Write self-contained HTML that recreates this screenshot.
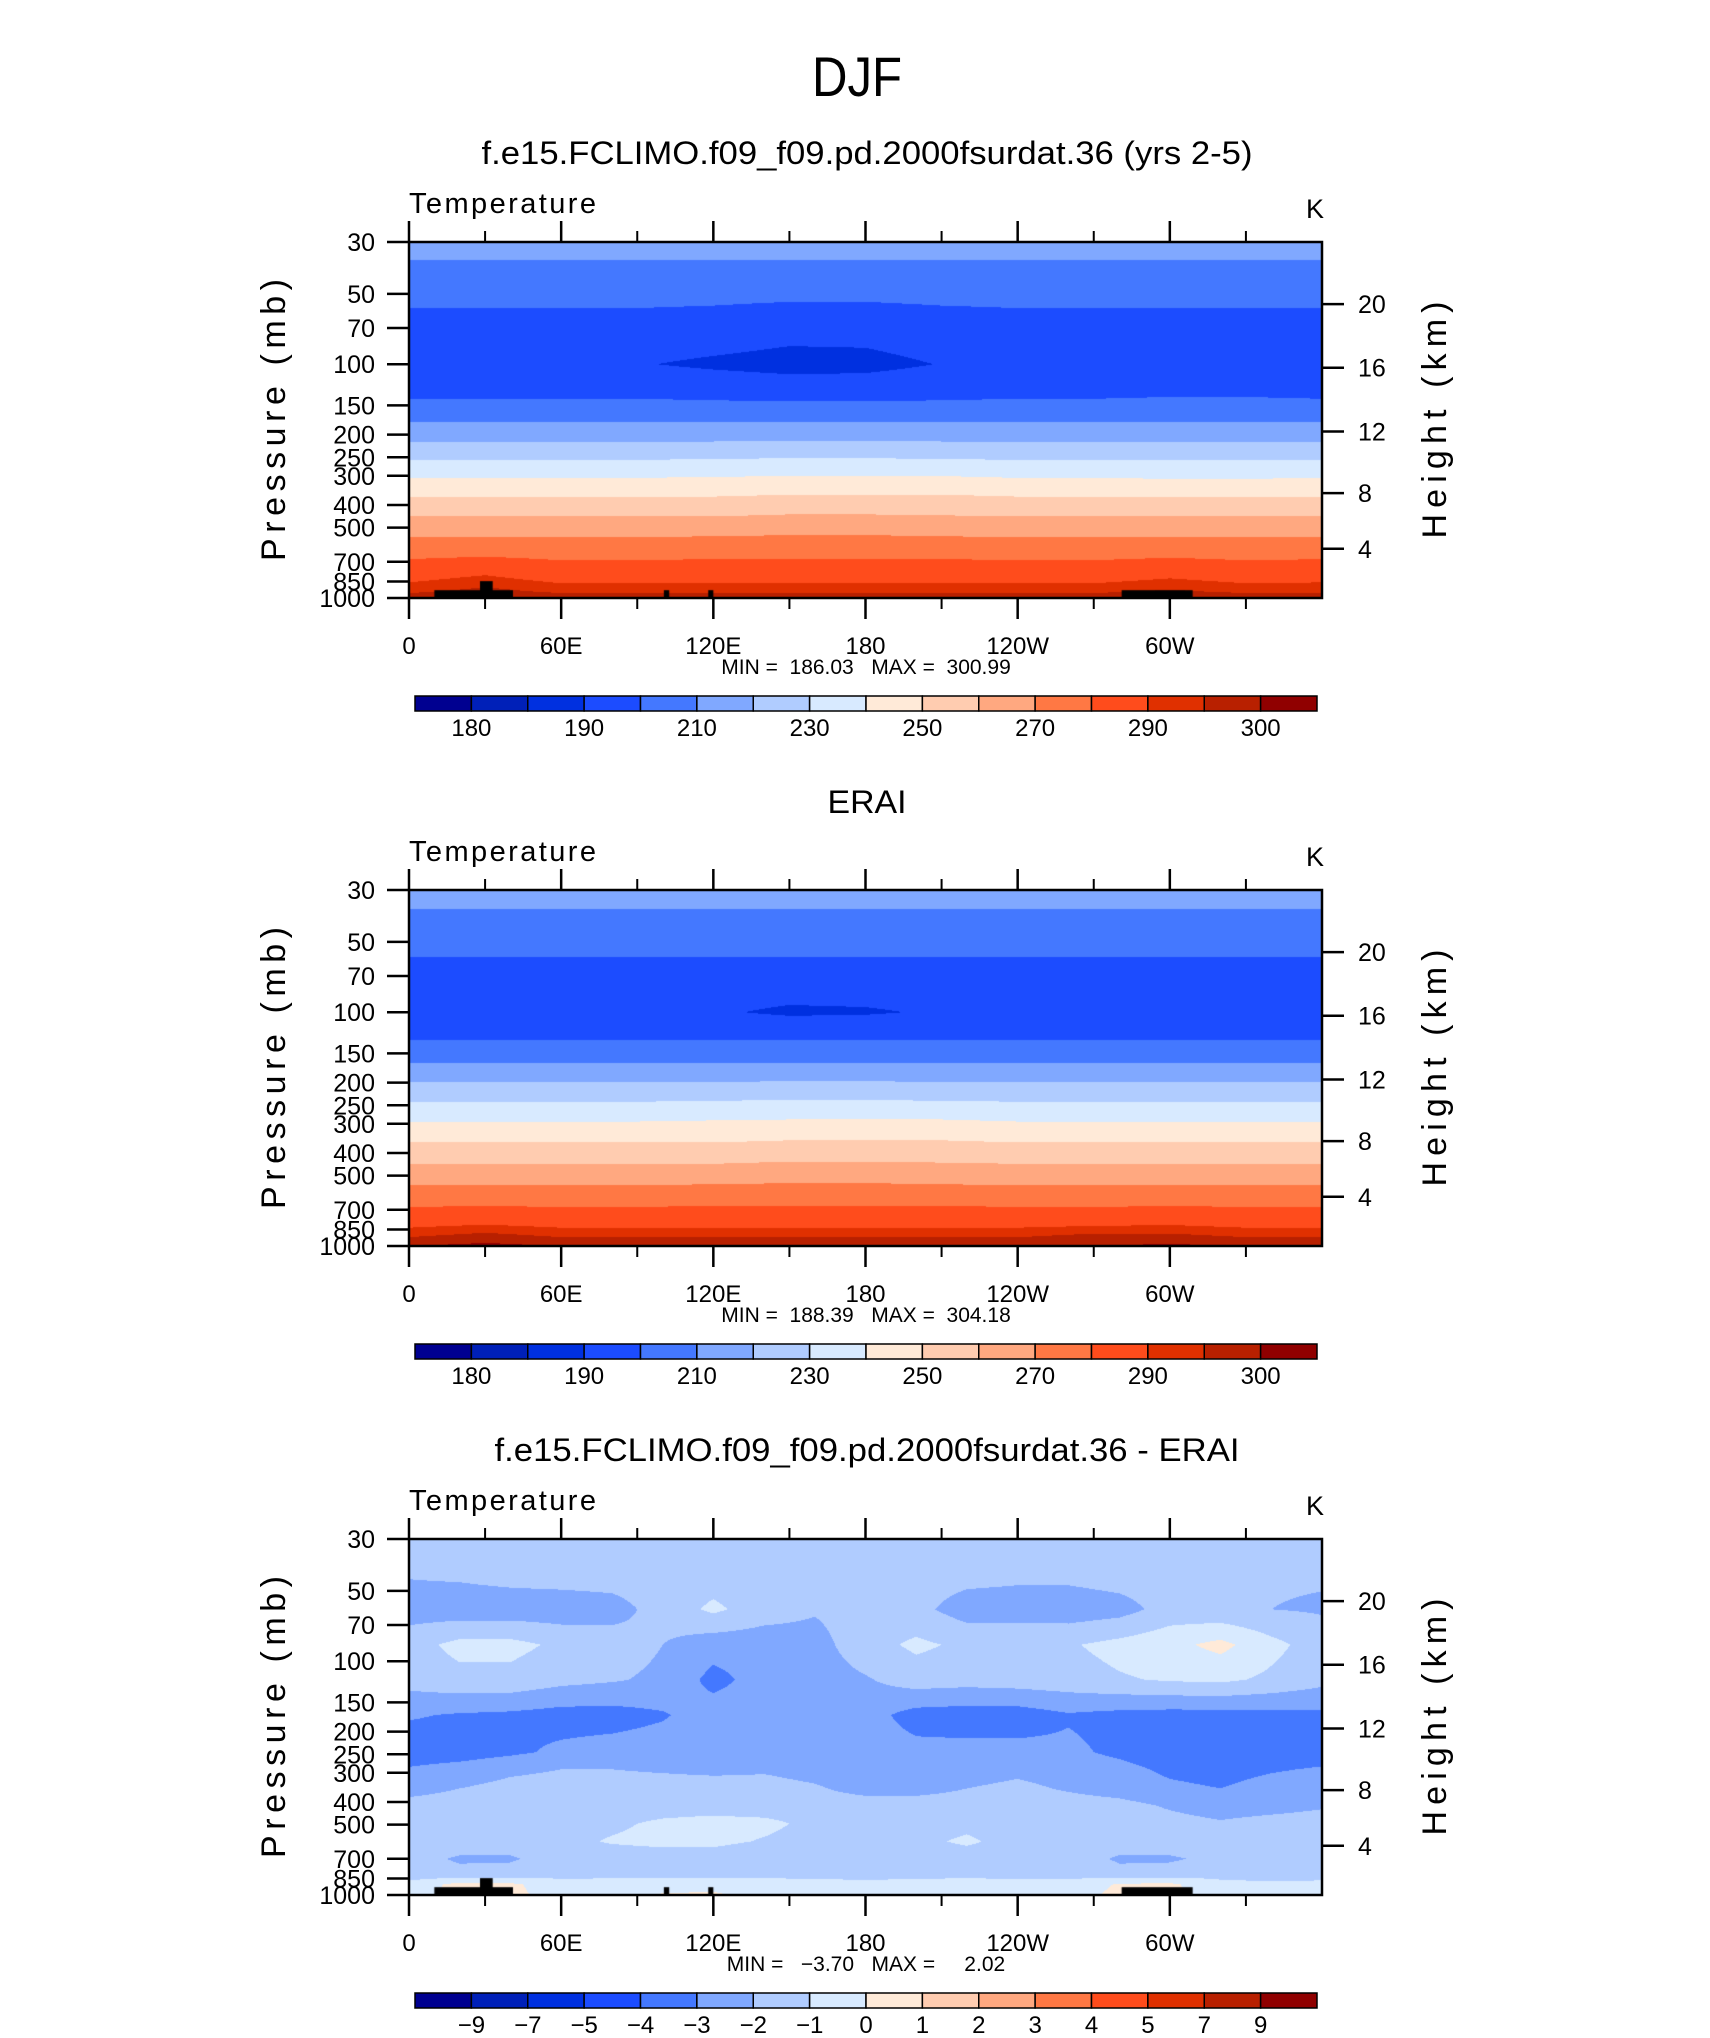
<!DOCTYPE html>
<html><head><meta charset="utf-8">
<style>
html,body{margin:0;padding:0;background:#fff;}
#root{position:relative;width:1710px;height:2038px;background:#fff;overflow:hidden;font-family:"Liberation Sans",sans-serif;}
canvas{position:absolute;}
svg{position:absolute;left:0;top:0;}
text{font-family:"Liberation Sans",sans-serif;fill:#000;white-space:pre;}
</style></head>
<body>
<div id="root">
<canvas id="c1" width="913" height="356" style="left:409px;top:242px"></canvas>
<canvas id="c2" width="913" height="356" style="left:409px;top:890px"></canvas>
<canvas id="c3" width="913" height="356" style="left:409px;top:1539px"></canvas>
<svg id="ov" width="1710" height="2038" viewBox="0 0 1710 2038">
<text x="857" y="96" font-size="56" text-anchor="middle" textLength="90" lengthAdjust="spacingAndGlyphs">DJF</text>
<text x="867" y="164" font-size="32" text-anchor="middle" textLength="771" lengthAdjust="spacingAndGlyphs">f.e15.FCLIMO.f09_f09.pd.2000fsurdat.36 (yrs 2-5)</text>
<text x="867" y="813" font-size="32" text-anchor="middle" textLength="79" lengthAdjust="spacingAndGlyphs">ERAI</text>
<text x="867" y="1461" font-size="32" text-anchor="middle" textLength="745" lengthAdjust="spacingAndGlyphs">f.e15.FCLIMO.f09_f09.pd.2000fsurdat.36 - ERAI</text>
<g id="axes"></g>
</svg>
</div>
<script>
// ---------- shared data ----------
const colors = ["#000090","#0020b8","#0030e0","#1c4cff","#4478ff","#80a8ff","#b0ccff","#d8eaff","#ffead8","#ffccb0","#ffa880","#ff7844","#ff4c1c","#e03000","#b82000","#900000"];
const tempLevels = [180,185,190,200,210,220,230,240,250,260,270,280,290,295,300];
const tempLabels = ["180","190","210","230","250","270","290","300"];
const diffLevels = [-9,-7,-5,-4,-3,-2,-1,0,1,2,3,4,5,7,9];
const diffLabels = ["\u22129","\u22127","\u22125","\u22124","\u22123","\u22122","\u22121","0","1","2","3","4","5","7","9"];
const pressureTicks = [30,50,70,100,150,200,250,300,400,500,700,850,1000];
const heightTicksKm = ["4","8","12","16","20"];
const heightTicksP = [616,356,194,103.5,55.3];
const lonTicks = [0,60,120,180,240,300];
const lonLabels = ["0","60E","120E","180","120W","60W"];
const lonMinor = [30,90,150,210,270,330];
// topography: [lonStart, lonEnd, pressureTop]
const topoLonStart = [10,28,100.5,118,281];
const topoLonEnd = [41,33,102.6,120,309];
const topoPTop = [926,847,926,926,926];

// ---------- panel 1: model ----------
const lons1 = [0,30,60,90,120,150,180,210,240,270,300,330,360];
const levels1 = [30,45,70,100,130,160,195,235,280,335,405,495,610,780,920,1000];
const temp1 = [
 [214,214,214,214,214,214,214,214,214,214,214,214,214],
 [205,205,205,205,205,205,205,205,205,205,205,205,205],
 [196,196,196,196,195,193,193,195,196,196,196,196,196],
 [193,193,191.5,190.5,188.5,187,187.5,190.3,192,190.3,192,193,193],
 [197,197,197,197,196,195,195,196,197,197,198,198,197],
 [205,205,205,205,205,205,205,205,205,205,205,205,205],
 [215,215,215,215,215,215,215,215,215,215,215,215,215],
 [225,225,225,225,225,226,226,225,225,225,225,225,225],
 [235,235,235,235,236,236,236,236,235,235,235,235,235],
 [245,245,245,245,245,246,246,246,245,245,244,244,245],
 [255,255,255,255,255,256,256,256,255,255,255,255,255],
 [265,265,265,265,265,266,266,265,265,265,265,265,265],
 [275,275,275,275,276,276,276,276,275,275,275,275,275],
 [286,289,285,285,285,285,285,285,285,285,287.5,285,286],
 [293,296,293,293,293,293,293,293,293,293,295,293,293],
 [298,298,298,298,298,298,298,298,298,298,298,298,298]
];
const minMax1 = "MIN =  186.03   MAX =  300.99";

// ---------- panel 2: ERAI ----------
const lons2 = [0,30,60,90,120,150,180,210,240,270,300,330,360];
const levels2 = [30,48,70,100,125,150,180,220,265,325,400,495,610,760,900,1000];
const temp2 = [
 [214,214,214,214,214,214,214,214,214,214,214,214,214],
 [204,204,204,204,204,204,204,204,204,204,204,204,204],
 [196,196,196,196,196,196,196,196,196,196,196,196,196],
 [193,193,193,192.5,191,188.5,189,191,192.5,193,193,193,193],
 [198,198,198,198,198,198,198,198,198,198,198,198,198],
 [205,205,205,205,205,205,205,205,205,205,205,205,205],
 [215,215,215,215,215,215,215,215,215,215,215,215,215],
 [225,225,225,225,225,226,226,225,225,225,225,225,225],
 [235,235,235,235,236,236,236,236,235,235,235,235,235],
 [245,245,245,245,245,246,246,246,245,245,245,245,245],
 [255,255,255,255,255,256,256,256,255,255,255,255,255],
 [265,265,265,265,265,266,266,265,265,265,265,265,265],
 [275,275,275,275,276,276,276,276,275,275,275,275,275],
 [285,286,285,285,285,285,285,285,285,285,286,285,285],
 [294,296.5,294,294,294,294,294,294,294,296,296,294,294],
 [300,301.5,300,300,300,300,300,300,300,300,301,300,300]
];
const minMax2 = "MIN =  188.39   MAX =  304.18";

// ---------- panel 3: difference ----------
const lons3 = [0,20,40,60,80,100,120,140,160,180,200,220,240,260,280,300,320,340,360];
const levels3 = [30,42,60,85,120,170,245,290,350,415,495,590,700,810,900,1000];
const diff3 = [
 [-1.5,-1.5,-1.5,-1.5,-1.5,-1.5,-1.5,-1.5,-1.5,-1.5,-1.5,-1.5,-1.5,-1.5,-1.5,-1.5,-1.5,-1.5,-1.5],
 [-1.9,-1.8,-1.6,-1.5,-1.5,-1.5,-1.5,-1.7,-1.5,-1.5,-1.5,-1.6,-1.7,-1.7,-1.5,-1.5,-1.6,-1.9,-1.9],
 [-2.5,-2.6,-2.6,-2.6,-2.4,-1.6,-0.8,-1.5,-1.9,-1.5,-1.7,-2.5,-2.6,-2.6,-2.4,-1.6,-1.8,-2.0,-2.1],
 [-1.4,-0.7,-0.7,-1.2,-1.5,-2.0,-2.6,-2.6,-2.4,-1.4,-0.8,-1.2,-1.0,-1.1,-0.7,-0.3,0.3,-0.7,-1.5],
 [-1.6,-1.3,-1.3,-1.7,-1.9,-2.2,-3.3,-2.6,-2.5,-2.1,-1.5,-1.6,-1.5,-1.4,-1.1,-0.9,-0.8,-1.2,-1.7],
 [-2.9,-3.1,-3.2,-3.4,-3.4,-3.1,-2.5,-2.5,-2.5,-2.6,-3.4,-3.5,-3.5,-3.1,-3.3,-3.4,-3.4,-3.3,-3.2],
 [-3.6,-3.5,-3.2,-2.8,-2.6,-2.5,-2.5,-2.5,-2.5,-2.5,-2.7,-2.7,-2.7,-2.8,-3.2,-3.6,-3.7,-3.6,-3.5],
 [-2.9,-2.6,-2.2,-2.0,-2.0,-2.1,-2.2,-2.1,-2.3,-2.5,-2.6,-2.4,-2.2,-2.4,-2.7,-3.2,-3.4,-3.1,-2.9],
 [-2.3,-2.0,-1.7,-1.6,-1.6,-1.6,-1.6,-1.7,-1.9,-2.3,-2.3,-2.0,-1.8,-2.1,-2.4,-2.8,-3.0,-2.6,-2.4],
 [-1.7,-1.6,-1.6,-1.6,-1.6,-1.5,-1.5,-1.6,-1.6,-1.6,-1.6,-1.6,-1.6,-1.6,-1.7,-2.1,-2.4,-2.3,-2.1],
 [-1.6,-1.6,-1.6,-1.5,-1.2,-0.8,-0.6,-0.7,-1.3,-1.6,-1.6,-1.3,-1.6,-1.6,-1.6,-1.7,-1.9,-1.7,-1.6],
 [-1.6,-1.6,-1.6,-1.3,-0.9,-0.7,-0.7,-1.1,-1.5,-1.6,-1.3,-0.8,-1.5,-1.6,-1.6,-1.6,-1.6,-1.6,-1.6],
 [-1.7,-2.1,-2.1,-1.6,-1.6,-1.6,-1.6,-2.0,-1.9,-1.6,-1.6,-1.6,-1.6,-1.6,-2.1,-2.1,-1.8,-2.0,-1.7],
 [-1.7,-1.8,-1.7,-1.4,-1.3,-1.3,-1.3,-1.3,-1.3,-1.3,-1.3,-1.3,-1.4,-1.3,-1.8,-1.7,-1.4,-1.5,-1.7],
 [-0.6,0.3,0.2,-0.6,-0.6,-0.5,-0.5,-0.6,-0.7,-0.8,-0.7,-0.6,-0.6,-0.7,0.1,0.2,-0.7,-0.8,-0.6],
 [-0.5,0.4,0.3,-0.5,-0.5,0.1,0.2,-0.5,-0.5,-0.5,-0.5,-0.5,-0.5,-0.5,0.3,0.2,-0.5,-0.5,-0.5]
];
const minMax3 = "MIN =   \u22123.70   MAX =     2.02";

// ---------- geometry ----------
const X0 = 409, PW = 913, PH = 356;
const panelTops = [242, 890, 1539];
const LNR = Math.log(1000/30);
function xOf(lon){ return X0 + lon/360*PW; }
function yOf(p, top){ return top + Math.log(p/30)/LNR*PH; }
function hexToRgb(h){ return [parseInt(h.substr(1,2),16),parseInt(h.substr(3,2),16),parseInt(h.substr(5,2),16)]; }
const rgb = colors.map(hexToRgb);

function sample(lons, levels, grid, lon, lnp){
  const step = lons[1]-lons[0];
  let i = Math.min(Math.floor((lon-lons[0])/step), lons.length-2);
  const fx = (lon - lons[i])/step;
  const lnl = levels.map(Math.log);
  let j = 0;
  while (j < levels.length-2 && lnp > lnl[j+1]) j++;
  let fy = (lnp - lnl[j])/(lnl[j+1]-lnl[j]);
  fy = Math.max(0, Math.min(1, fy));
  const a = grid[j][i], b = grid[j][i+1], c = grid[j+1][i], d = grid[j+1][i+1];
  return (a*(1-fx)+b*fx)*(1-fy) + (c*(1-fx)+d*fx)*fy;
}
function levelIndex(v, lv){ let k=0; while(k<lv.length && v>=lv[k]) k++; return k; }

function drawField(id, lons, levels, grid, lv, topo){
  const cv = document.getElementById(id), ctx = cv.getContext('2d');
  const img = ctx.createImageData(PW, PH);
  for (let py=0; py<PH; py++){
    const lnp = Math.log(30) + (py+0.5)/PH*LNR;
    for (let px=0; px<PW; px++){
      const lon = (px+0.5)/PW*360;
      const v = sample(lons, levels, grid, lon, lnp);
      const c = rgb[levelIndex(v, lv)];
      const o = (py*PW+px)*4;
      img.data[o]=c[0]; img.data[o+1]=c[1]; img.data[o+2]=c[2]; img.data[o+3]=255;
    }
  }
  ctx.putImageData(img,0,0);
  if (topo){
    ctx.fillStyle = "#000";
    for (let k=0;k<topoLonStart.length;k++){
      const xa = topoLonStart[k]/360*PW, xb = topoLonEnd[k]/360*PW;
      const ya = Math.log(topoPTop[k]/30)/LNR*PH;
      ctx.fillRect(xa, ya, Math.max(2,xb-xa), PH-ya);
    }
  }
}
drawField('c1', lons1, levels1, temp1, tempLevels, true);
drawField('c2', lons2, levels2, temp2, tempLevels, false);
drawField('c3', lons3, levels3, diff3, diffLevels, true);

// ---------- axes ----------
const NS = "http://www.w3.org/2000/svg";
const axes = document.getElementById('axes');
function mk(tag, attrs, parent){
  const e = document.createElementNS(NS, tag);
  for (const k in attrs) e.setAttribute(k, attrs[k]);
  (parent||axes).appendChild(e);
  return e;
}
function txt(x, y, s, size, anchor, parent){
  const t = mk('text', {x:x, y:y, 'font-size':size, 'text-anchor':anchor||'start'}, parent);
  t.textContent = s;
  return t;
}
const minMaxes = [minMax1, minMax2, minMax3];
panelTops.forEach(function(top, n){
  const g = mk('g', {});
  
  
  const bot = top + PH;
  lonTicks.forEach(function(lon, k){
    const x = xOf(lon);
    const t1 = mk('line', {x1:x, x2:x, y1:top-21, y2:top, stroke:'#000', 'stroke-width':2.5}, g);
    
    
    const t2 = mk('line', {x1:x, x2:x, y1:bot, y2:bot+21, stroke:'#000', 'stroke-width':2.5}, g);
    
    
    const lb = txt(x, bot+56, lonLabels[k], 24, 'middle', g);
    
    
  });
  lonMinor.forEach(function(lon){
    const x = xOf(lon);
    const m1 = mk('line', {x1:x, x2:x, y1:top-11, y2:top, stroke:'#000', 'stroke-width':2}, g);
    
    
    const m2 = mk('line', {x1:x, x2:x, y1:bot, y2:bot+11, stroke:'#000', 'stroke-width':2}, g);
    
    
  });
  pressureTicks.forEach(function(p){
    const y = yOf(p, top);
    const tk = mk('line', {x1:X0-22, x2:X0, y1:y, y2:y, stroke:'#000', 'stroke-width':2.5}, g);
    
    
    const lb = txt(X0-34, y+9, String(p), 25, 'end', g);
    
    
  });
  heightTicksP.forEach(function(p, k){
    const y = yOf(p, top);
    const tk = mk('line', {x1:X0+PW, x2:X0+PW+22, y1:y, y2:y, stroke:'#000', 'stroke-width':2.5}, g);
    
    
    const lb = txt(X0+PW+36, y+9, heightTicksKm[k], 25, 'start', g);
    
    
  });
  const fr = mk('rect', {x:X0, y:top, width:PW, height:PH, fill:'none', stroke:'#000', 'stroke-width':2.5}, g);
  
  
  const lt = txt(X0, top-29, 'Temperature', 29, 'start', g);
  lt.setAttribute('textLength', 187);
  
  
  const lk = txt(1315, top-24, 'K', 27, 'middle', g);
  
  
  const cy = top + 178;
  const ya = txt(0, 0, 'Pressure (mb)', 34, 'middle', g);
  ya.setAttribute('transform', 'translate(285,' + cy + ') rotate(-90)');
  ya.setAttribute('textLength', 282);
  
  
  const yb = txt(0, 0, 'Height (km)', 34, 'middle', g);
  yb.setAttribute('transform', 'translate(1446,' + cy + ') rotate(-90)');
  yb.setAttribute('textLength', 237);
  
  
  const mm = txt(866, bot+76, minMaxes[n], 21, 'middle', g);
  mm.setAttribute('xml:space', 'preserve');
  
  
  const cbTop = top + 454, cbX = 415, cbW = 902, cbH = 15, bw = cbW/16;
  const cg = mk('g', {}, g);
  
  
  for (let k=0;k<16;k++){
    const r = mk('rect', {x:cbX+k*bw, y:cbTop, width:bw, height:cbH, fill:colors[k], stroke:'#000', 'stroke-width':1.5}, cg);
    
    
  }
  if (n < 2){
    tempLabels.forEach(function(s, k){
      const lb = txt(cbX + (2*k+1)*bw, cbTop+40, s, 24, 'middle', cg);
      
      
    });
  } else {
    diffLabels.forEach(function(s, k){
      const lb = txt(cbX + (k+1)*bw, cbTop+40, s, 24, 'middle', cg);
      
      
    });
  }
});
</script>
</body></html>
